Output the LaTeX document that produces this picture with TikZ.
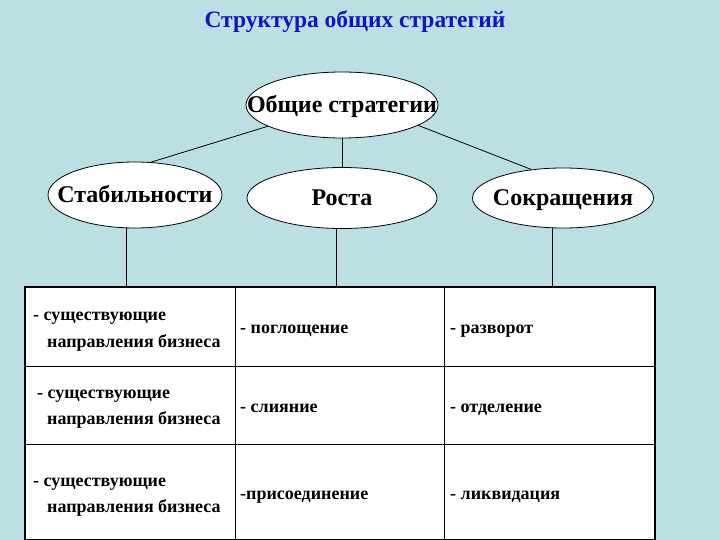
\documentclass[tikz,border=0pt]{standalone}
\usepackage{fontspec}
\setmainfont{Liberation Serif}
\usetikzlibrary{shapes.geometric}
\definecolor{bgblue}{RGB}{188,223,228}
\definecolor{titleblue}{RGB}{20,20,190}
\tikzset{
  oval/.style={ellipse, draw=black, line width=0.8pt, fill=white, inner sep=0pt, text height=16pt, text depth=0pt, font=\bfseries\fontsize{24}{26}\selectfont},
  cellbox/.style={rectangle, draw=black, line width=1pt, fill=white, inner sep=0pt},
  celltext/.style={anchor=base west, inner sep=0pt, font=\bfseries\fontsize{18}{20}\selectfont},
  link/.style={draw=black, line width=0.8pt}
}
\begin{document}
\begin{tikzpicture}[x=1pt,y=-1pt]
\fill[bgblue] (0,0) rectangle (720,540);
\useasboundingbox (0,0) rectangle (720,540);
\node[font=\bfseries\fontsize{23.5}{26}\selectfont, text=titleblue] (title) at (355,22) {Структура общих стратегий};
\node[oval, minimum width=192pt, minimum height=66pt] (top) at (342,105) {\makebox[0pt]{Общие стратегии}};
\node[oval, minimum width=174pt, minimum height=66pt] (stab) at (135,195) {\makebox[0pt]{Стабильности}};
\node[oval, minimum width=190pt, minimum height=61pt] (rost) at (342,198) {\makebox[0pt]{Роста}};
\node[oval, minimum width=181pt, minimum height=60pt] (sokr) at (563,198) {\makebox[0pt]{Сокращения}};
% table cells
\node[cellbox, minimum width=210pt, minimum height=79pt] (c11) at (130,327) {};
\node[cellbox, minimum width=209pt, minimum height=79pt] (c12) at (339.5,327) {};
\node[cellbox, minimum width=210pt, minimum height=79pt] (c13) at (549,327) {};
\node[cellbox, minimum width=210pt, minimum height=78pt] (c21) at (130,405) {};
\node[cellbox, minimum width=209pt, minimum height=78pt] (c22) at (339.5,405) {};
\node[cellbox, minimum width=210pt, minimum height=78pt] (c23) at (549,405) {};
\node[cellbox, minimum width=210pt, minimum height=95pt] (c31) at (130,491.5) {};
\node[cellbox, minimum width=209pt, minimum height=95pt] (c32) at (339.5,491.5) {};
\node[cellbox, minimum width=210pt, minimum height=95pt] (c33) at (549,491.5) {};
\draw[line width=2pt] (c11.north west) -- (c13.north east) -- (c33.south east) -- (c31.south west) -- cycle;
% connectors
\draw[link] (top.196) -- (stab.64);
\draw[link] (top.south) -- (rost.north);
\draw[link] (top.-15) -- (sokr.138);
\draw[link] ([xshift=-9pt]stab.south) -- ([xshift=-9pt]stab.south |- c11.north);
\draw[link] ([xshift=-6pt]rost.south) -- ([xshift=-6pt]rost.south |- c12.north);
\draw[link] ([xshift=-11pt]sokr.south) -- ([xshift=-11pt]sokr.south |- c13.north);
% cell texts
\node[celltext] (t11a) at (33,320) {- существующие};
\node[celltext] (t11b) at (47,347) {направления бизнеса};
\node[celltext] (t12) at (240,333) {- поглощение};
\node[celltext] (t13) at (450,333) {- разворот};
\node[celltext] (t21a) at (37,398) {- существующие};
\node[celltext] (t21b) at (47,424) {направления бизнеса};
\node[celltext] (t22) at (240,412) {- слияние};
\node[celltext] (t23) at (450,412) {- отделение};
\node[celltext] (t31a) at (33,486) {- существующие};
\node[celltext] (t31b) at (47,512) {направления бизнеса};
\node[celltext] (t32) at (240,499) {-присоединение};
\node[celltext] (t33) at (450,499) {- ликвидация};
\end{tikzpicture}
\end{document}
